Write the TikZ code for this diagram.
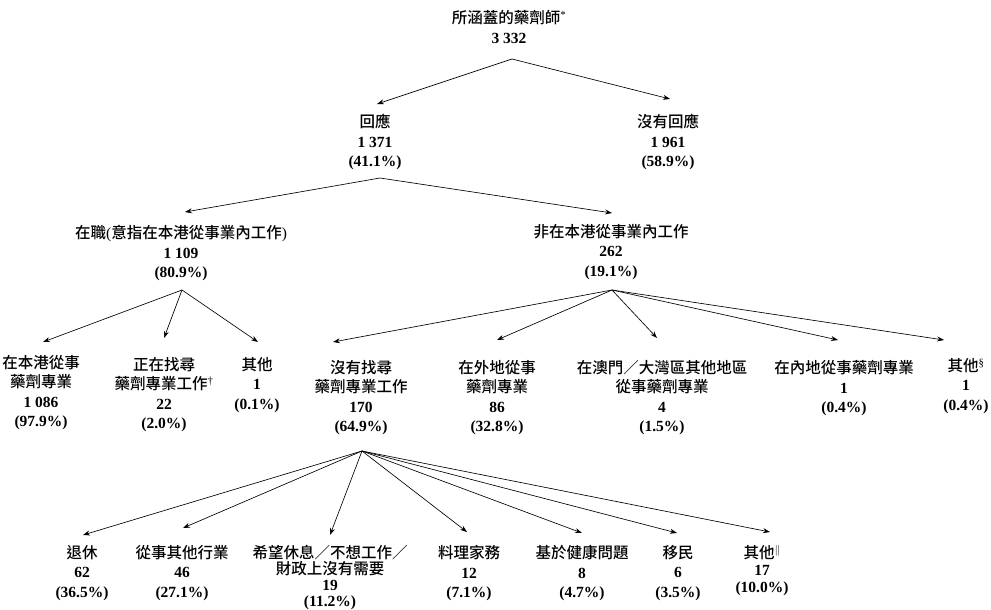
\documentclass[tikz,border=0pt]{standalone}
\usepackage{fontspec}
\setmainfont{Liberation Serif}
\newfontfamily\cjk{Noto Sans CJK TC}[UprightFont=* Medium]
\usetikzlibrary{arrows.meta}

\begin{document}
\begin{tikzpicture}[>={Stealth[length=7pt,width=5pt]},x=1pt,y=-1pt,line width=0.65pt,
	lbl/.style={align=center,anchor=north,inner sep=0pt,font=\fontsize{15.5}{19.5}\selectfont}]
	\useasboundingbox (0,0) rectangle (991,610);
	% top
	\node[lbl] (all) at (509,10) {{\cjk 所涵蓋的藥劑師}\textsuperscript{*}\\\textbf{3 332}};
	\node[lbl] (res) at (375,114) {{\cjk 回應}\\\textbf{1 371}\\\textbf{(41.1\%)}};
	\node[lbl] (nores) at (668,114) {{\cjk 沒有回應}\\\textbf{1 961}\\\textbf{(58.9\%)}};
	\node[lbl] (emp) at (181,225) {{\cjk 在職}({\cjk 意指在本港從事業內工作})\\\textbf{1 109}\\\textbf{(80.9\%)}};
	\node[lbl] (nonemp) at (611,224) {{\cjk 非在本港從事業內工作}\\\textbf{262}\\\textbf{(19.1\%)}};
	% in the profession
	\node[lbl] (hk) at (41,355) {{\cjk 在本港從事}\\{\cjk 藥劑專業}\\\textbf{1 086}\\\textbf{(97.9\%)}};
	\node[lbl] (seek) at (164,357) {{\cjk 正在找尋}\\{\cjk 藥劑專業工作}\textsuperscript{\dag}\\\textbf{22}\\\textbf{(2.0\%)}};
	\node[lbl] (othA) at (257,357) {{\cjk 其他}\\\textbf{1}\\\textbf{(0.1\%)}};
	% not in the profession
	\node[lbl] (noseek) at (361,360) {{\cjk 沒有找尋}\\{\cjk 藥劑專業工作}\\\textbf{170}\\\textbf{(64.9\%)}};
	\node[lbl] (abroad) at (497,360) {{\cjk 在外地從事}\\{\cjk 藥劑專業}\\\textbf{86}\\\textbf{(32.8\%)}};
	\node[lbl] (macau) at (662,360) {{\cjk 在澳門／大灣區其他地區}\\{\cjk 從事藥劑專業}\\\textbf{4}\\\textbf{(1.5\%)}};
	\node[lbl] (mainland) at (844,360) {{\cjk 在內地從事藥劑專業}\\\textbf{1}\\\textbf{(0.4\%)}};
	\node[lbl] (othB) at (966,358) {{\cjk 其他}\textsuperscript{\S}\\\textbf{1}\\\textbf{(0.4\%)}};
	% reasons
	\node[lbl] (retire) at (82,545) {{\cjk 退休}\\\textbf{62}\\\textbf{(36.5\%)}};
	\node[lbl] (trade) at (182,545) {{\cjk 從事其他行業}\\\textbf{46}\\\textbf{(27.1\%)}};
	\node[lbl,font=\fontsize{15.5}{16}\selectfont] (rest) at (330,545) {{\cjk 希望休息／不想工作／}\\{\cjk 財政上沒有需要}\\\textbf{19}\\\textbf{(11.2\%)}};
	\node[lbl] (house) at (469,545) {{\cjk 料理家務}\\\textbf{12}\\\textbf{(7.1\%)}};
	\node[lbl] (health) at (582,545) {{\cjk 基於健康問題}\\\textbf{8}\\\textbf{(4.7\%)}};
	\node[lbl] (emig) at (678,545) {{\cjk 移民}\\\textbf{6}\\\textbf{(3.5\%)}};
	\node[lbl,font=\fontsize{15.5}{17}\selectfont] (othC) at (762,545) {{\cjk 其他}\textsuperscript{$\|$}\\\textbf{17}\\\textbf{(10.0\%)}};
	% branch points
	\coordinate (p0) at (512,59);
	\coordinate (p1) at (380,178);
	\coordinate (p2) at (182,290);
	\coordinate (p3) at (612,290);
	\coordinate (p4) at (362,451);
	\foreach \n/\dx/\dy in {res/2/-10,nores/2/-15}
		\draw[->] (p0) -- ([shift={(\dx,\dy)}]\n.north);
	\foreach \n/\dx/\dy in {emp/4/-13,nonemp/1/-11}
		\draw[->] (p1) -- ([shift={(\dx,\dy)}]\n.north);
	\foreach \n/\dx/\dy in {hk/2/-13,seek/0/-19,othA/1/-15}
		\draw[->] (p2) -- ([shift={(\dx,\dy)}]\n.north);
	\foreach \n/\dx/\dy in {noseek/-28/-18,abroad/0/-20,macau/-5/-22,mainland/-6/-20,othB/-22/-18}
		\draw[->] (p3) -- ([shift={(\dx,\dy)}]\n.north);
	\foreach \n/\dx/\dy in {retire/1/-10,trade/1/-17,rest/0/-10,house/-2/-13,health/0/-12,emig/-1/-12,othC/8/-13}
		\draw[->] (p4) -- ([shift={(\dx,\dy)}]\n.north);
\end{tikzpicture}
\end{document}
